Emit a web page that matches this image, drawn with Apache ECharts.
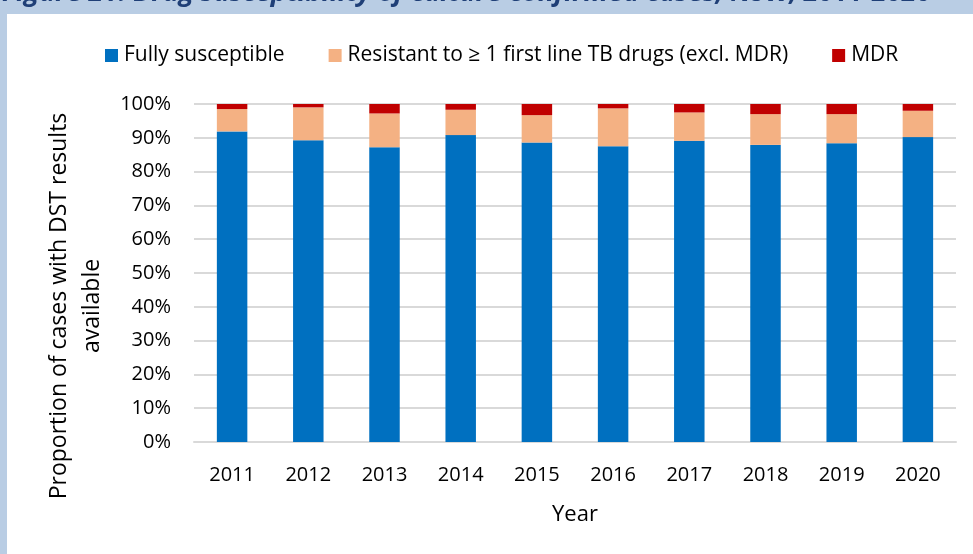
<!DOCTYPE html>
<html>
<head>
<meta charset="utf-8">
<script src="https://cdn.jsdelivr.net/npm/echarts@6/dist/echarts.min.js"></script>
<style>
  html, body { margin: 0; padding: 0; background: #b9cde4; }
  #chart { width: 973px; height: 554px; }
</style>
</head>
<body>
<div id="chart"></div>
<script>
// Drug susceptibility of culture-confirmed TB cases, share of cases with DST results (%)
const years = ['2011', '2012', '2013', '2014', '2015', '2016', '2017', '2018', '2019', '2020'];
const fullySusceptible = [91.9, 89.3, 87.2, 90.8, 88.6, 87.5, 89.1, 87.9, 88.4, 90.2];
const resistantFirstLine = [6.6, 9.7, 10.0, 7.5, 8.1, 11.2, 8.4, 9.1, 8.6, 7.8];
const mdr = [1.5, 1.0, 2.8, 1.7, 3.3, 1.3, 2.5, 3.0, 3.0, 2.0];
const seriesNames = ['Fully susceptible', 'Resistant to \u2265 1 first line TB drugs (excl. MDR)', 'MDR'];

const FONT = 'Open Sans';
const chart = echarts.init(document.getElementById('chart'));

function barSeries(name, data, color) {
  return {
    name: name,
    type: 'bar',
    stack: 'total',
    barWidth: '40%',
    data: data,
    itemStyle: { color: color },
    emphasis: { disabled: true }
  };
}

chart.setOption({
  backgroundColor: '#b9cde4',
  animation: false,
  textStyle: { fontFamily: FONT },
  graphic: [
    {
      type: 'rect',
      left: 7, top: 14,
      shape: { width: 966, height: 540 },
      style: { fill: '#ffffff' },
      z: -10
    },
    {
      type: 'text',
      left: 2, top: -20,
      style: {
        text: 'Figure 21: Drug susceptibility of culture confirmed cases, NSW, 2011-2020',
        font: 'italic bold 27px "Open Sans"',
        fill: '#1f3f77'
      },
      z: -5
    }
  ],
  legend: {
    top: 45,
    left: 105,
    padding: 0,
    itemWidth: 13,
    itemHeight: 13,
    itemGap: 44,
    icon: 'rect',
    textStyle: { fontSize: 21, color: '#000', fontFamily: FONT, padding: [0, 0, 0, 1] },
    data: seriesNames
  },
  grid: { left: 194, right: 17, top: 104, bottom: 112, containLabel: false },
  xAxis: {
    type: 'category',
    data: years,
    name: 'Year',
    nameLocation: 'middle',
    nameGap: 62,
    nameTextStyle: { fontSize: 22, color: '#000', fontFamily: FONT },
    axisLine: { show: true, lineStyle: { color: '#d9d9d9', width: 2 } },
    axisTick: { show: false },
    axisLabel: { fontSize: 20, color: '#000', margin: 23, fontFamily: FONT }
  },
  yAxis: {
    type: 'value',
    min: 0, max: 100, interval: 10,
    name: 'Proportion of cases with DST results\navailable',
    nameLocation: 'middle',
    nameGap: 83,
    nameTextStyle: { fontSize: 23, color: '#000', fontFamily: FONT, lineHeight: 33, padding: [0, 66, 0, 0] },
    axisLine: { show: false },
    axisTick: { show: false },
    axisLabel: { fontSize: 20, color: '#000', margin: 23, formatter: '{value}%', fontFamily: FONT },
    splitLine: { lineStyle: { color: '#d9d9d9', width: 2 } }
  },
  series: [
    barSeries(seriesNames[0], fullySusceptible, '#0070c0'),
    barSeries(seriesNames[1], resistantFirstLine, '#f4b183'),
    barSeries(seriesNames[2], mdr, '#c00000')
  ]
});
</script>
</body>
</html>
